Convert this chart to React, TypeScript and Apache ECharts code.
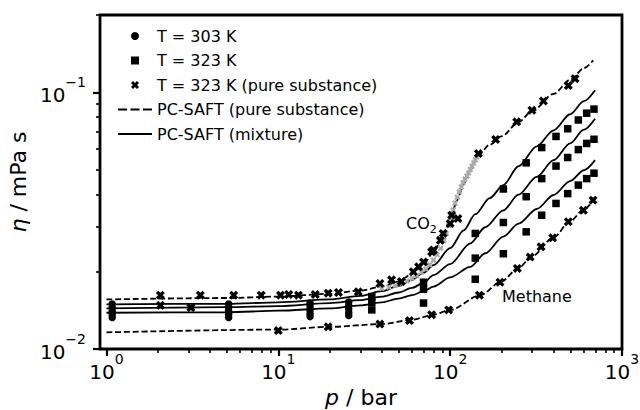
import React, { useEffect, useRef } from 'react';
import * as echarts from 'echarts';

const FONT = 'DejaVu Sans';

// ---------- data (p in bar, eta in mPa s) ----------
// T = 303 K mixture measurements (circles)
const circleP = [
  1.08, 1.08, 1.08, 1.08, 1.08,
  5.14, 5.14, 5.14, 5.14, 5.14,
  15.3, 15.3, 15.3, 15.3, 15.3,
  25.7, 25.7, 25.7, 25.7, 25.7,
];
const circleEta = [
  0.01496, 0.0145, 0.01406, 0.01362, 0.01326,
  0.01496, 0.0145, 0.01406, 0.01362, 0.01326,
  0.0151, 0.01463, 0.01418, 0.01374, 0.01337,
  0.01524, 0.01477, 0.01432, 0.01388, 0.0135,
];

// T = 323 K mixture measurements (squares), three mixtures
const squareP = [35, 70, 140, 204, 277, 341, 413, 483, 557, 623, 687];
const squareEtaA = [0.016, 0.0182, 0.0282, 0.042, 0.0531, 0.0609, 0.0673, 0.0721, 0.078, 0.0829, 0.086];
const squareEtaB = [0.0152, 0.0171, 0.0226, 0.0311, 0.0392, 0.0461, 0.0516, 0.0557, 0.0598, 0.0632, 0.0656];
const squareEtaC = [0.0142, 0.0151, 0.0187, 0.0235, 0.0286, 0.0332, 0.0369, 0.0403, 0.0435, 0.0461, 0.0484];

// T = 323 K pure substances (crosses)
const co2CrossP = [2.06, 3.52, 5.5, 7.95, 10.3, 11.5, 13.1, 16.4, 19.5, 22.4, 29.2, 39, 45.6, 52, 61, 65.5, 70, 78, 80, 87.6, 91, 100, 102, 111, 146, 184, 244, 299, 349, 487, 533];
const co2CrossEta = [0.0162, 0.0162, 0.0162, 0.0162, 0.0162, 0.0163, 0.0162, 0.0163, 0.0165, 0.0166, 0.0167, 0.018, 0.0186, 0.0183, 0.02, 0.0209, 0.0218, 0.0239, 0.0243, 0.0265, 0.0282, 0.0308, 0.0332, 0.0322, 0.0577, 0.0655, 0.0767, 0.0851, 0.0925, 0.1062, 0.113];
const otherCrossP = [2.06, 3.1];
const otherCrossEta = [0.0148, 0.0145];
const ch4CrossP = [10, 19.5, 39, 58, 78, 98, 148, 195, 246, 292, 338, 395, 487, 596, 678];
const ch4CrossEta = [0.0118, 0.0122, 0.0125, 0.0129, 0.0136, 0.0142, 0.0162, 0.0182, 0.0206, 0.0228, 0.025, 0.0271, 0.0313, 0.0347, 0.038];

// dense CO2 data set near the critical region (grey)
const co2DenseP = [40, 44, 48, 52, 56, 60, 64, 68, 72, 76, 80, 84, 88, 92, 95, 98, 101, 104, 107, 110, 113, 116, 119, 122, 125, 128, 131, 134, 137, 140, 143, 146];
const co2DenseEta = [0.0172, 0.0174, 0.0177, 0.018, 0.0184, 0.0188, 0.0193, 0.0199, 0.0205, 0.0213, 0.0222, 0.0233, 0.0247, 0.0265, 0.0282, 0.0302, 0.0325, 0.0348, 0.037, 0.039, 0.041, 0.0428, 0.0444, 0.0459, 0.0472, 0.0485, 0.05, 0.0515, 0.053, 0.0545, 0.056, 0.0575];

// PC-SAFT pure substances (dashed)
const co2LineP = [1, 5, 10, 20, 30, 40, 50, 60, 70, 80, 90, 100, 110, 120, 130, 146, 170, 200, 250, 300, 400, 500, 600, 680];
const co2LineEta = [0.0156, 0.0158, 0.016, 0.0164, 0.0169, 0.0175, 0.0183, 0.0196, 0.0214, 0.0238, 0.0272, 0.0318, 0.038, 0.044, 0.0495, 0.057, 0.0625, 0.0675, 0.0765, 0.0845, 0.0986, 0.1119, 0.124, 0.1332];
const ch4LineP = [1, 10, 20, 40, 60, 80, 100, 150, 200, 250, 300, 400, 500, 600, 690];
const ch4LineEta = [0.01161, 0.0119, 0.0122, 0.0125, 0.013, 0.0136, 0.0142, 0.0162, 0.0184, 0.0207, 0.023, 0.0272, 0.0315, 0.035, 0.0385];

// PC-SAFT mixtures (solid)
const mixAP = [1, 5, 10, 20, 30, 40, 50, 60, 70, 80, 100, 120, 140, 170, 204, 250, 319, 400, 499, 600, 697];
const mixAEta = [0.01493, 0.015, 0.0152, 0.0156, 0.0161, 0.0168, 0.0176, 0.0186, 0.0198, 0.0212, 0.0247, 0.029, 0.0335, 0.0387, 0.0435, 0.0515, 0.0616, 0.0711, 0.0821, 0.0923, 0.1018];
const mixBP = [1, 5, 10, 20, 30, 40, 50, 60, 70, 80, 100, 131, 160, 204, 250, 319, 400, 499, 600, 697];
const mixBEta = [0.0144, 0.01455, 0.0147, 0.0151, 0.0155, 0.016, 0.0166, 0.0173, 0.0181, 0.0194, 0.0214, 0.0258, 0.0298, 0.0347, 0.0399, 0.0468, 0.0544, 0.0632, 0.0715, 0.0789];
const mixCP = [1, 5, 10, 20, 30, 40, 50, 60, 70, 80, 100, 131, 160, 204, 250, 319, 400, 499, 600, 697];
const mixCEta = [0.01384, 0.0139, 0.0141, 0.0144, 0.0148, 0.0152, 0.0157, 0.0162, 0.0168, 0.0175, 0.019, 0.0209, 0.0236, 0.0274, 0.0308, 0.0351, 0.0398, 0.0451, 0.0497, 0.0544];

// axes
const xMajor = [1, 10, 100, 1000];
const xMinor = [2, 3, 4, 5, 6, 7, 8, 9, 20, 30, 40, 50, 60, 70, 80, 90, 200, 300, 400, 500, 600, 700, 800, 900];
const yMajor = [0.01, 0.1];
const yMinor = [0.02, 0.03, 0.04, 0.05, 0.06, 0.07, 0.08, 0.09, 0.2];

const XSYM = 'path://M0,2.6 L2.6,0 L5,2.4 L7.4,0 L10,2.6 L7.6,5 L10,7.4 L7.4,10 L5,7.6 L2.6,10 L0,7.4 L2.4,5 Z';
const SQSYM = 'path://M0,0 L10,0 L10,10 L0,10 Z';
const SOLID_ICON = 'path://M0,0 L34,0 L34,1.8 L0,1.8 Z';
const DASH_ICON = 'path://M0,0 L9,0 L9,1.8 L0,1.8 Z M12.5,0 L21.5,0 L21.5,1.8 L12.5,1.8 Z M25,0 L34,0 L34,1.8 L25,1.8 Z';

const zip = (a: number[], b: number[]) => a.map((v, i) => [v, b[i]]);

const expLabel = (v: number) => {
  const e = Math.round(Math.log10(v));
  return `{b|10}{s|${e < 0 ? '\u2212' + -e : e}}`;
};

const labelRich = {
  b: { fontSize: 20, fontFamily: FONT, color: '#000', verticalAlign: 'bottom', lineHeight: 30 },
  s: { fontSize: 14, fontFamily: FONT, color: '#000', verticalAlign: 'top', lineHeight: 14 },
};

export default function App() {
  const ref = useRef<HTMLDivElement>(null);
  useEffect(() => {
    if (!ref.current) return;
    const chart = echarts.init(ref.current, null, { renderer: 'svg' });
    const black = '#000';
    const lineSeries = (name: string, p: number[], eta: number[], dashed: boolean) => ({
      name,
      type: 'line',
      data: zip(p, eta),
      symbol: 'none',
      smooth: 0.3,
      smoothMonotone: 'x',
      z: 2,
      lineStyle: { color: black, width: 1.8, type: dashed ? [6, 2.8] : 'solid' },
      itemStyle: { color: black },
    });
    const xMin = 0.917;
    const xMax = 1000;
    const yMin = 0.01;
    const yMax = 0.2;
    chart.setOption({
      animation: false,
      backgroundColor: '#fff',
      grid: {
        left: 100,
        right: 18,
        top: 15,
        bottom: 61,
        show: true,
        borderColor: black,
        borderWidth: 2.8,
        backgroundColor: 'transparent',
        outerBoundsMode: 'none',
      },
      legend: {
        orient: 'vertical',
        left: 113,
        top: 23,
        itemWidth: 34,
        itemHeight: 8,
        itemGap: 8.5,
        selectedMode: false,
        symbolKeepAspect: true,
        itemStyle: { borderWidth: 0 },
        textStyle: { fontSize: 16, fontFamily: FONT, color: black, lineHeight: 16 },
        data: [
          { name: 'T = 303 K', icon: 'circle' },
          { name: 'T = 323 K', icon: SQSYM },
          { name: 'T = 323 K (pure substance)', icon: XSYM },
          { name: 'PC-SAFT (pure substance)', icon: DASH_ICON },
          { name: 'PC-SAFT (mixture)', icon: SOLID_ICON },
        ],
      },
      xAxis: [
        {
          type: 'log',
          logBase: 10,
          min: xMin,
          max: xMax,
          position: 'bottom',
          axisLine: { show: false },
          splitLine: { show: false },
          axisTick: { customValues: xMajor, length: 7, lineStyle: { color: black, width: 2.2 } },
          axisLabel: { customValues: xMajor, formatter: expLabel, rich: labelRich, margin: 3 },
          name: '{i|p}{r| / bar}',
          nameLocation: 'middle',
          nameGap: 23,
          nameTextStyle: {
            rich: {
              i: { fontSize: 22, fontFamily: FONT, fontStyle: 'italic', color: black },
              r: { fontSize: 22, fontFamily: FONT, color: black },
            },
          },
        },
        {
          type: 'log',
          logBase: 10,
          min: xMin,
          max: xMax,
          position: 'bottom',
          axisLine: { show: false },
          splitLine: { show: false },
          axisTick: { customValues: xMinor, length: 4, lineStyle: { color: black, width: 1.6 } },
          axisLabel: { show: false },
        },
      ],
      yAxis: [
        {
          type: 'log',
          logBase: 10,
          min: yMin,
          max: yMax,
          position: 'left',
          axisLine: { show: false },
          splitLine: { show: false },
          axisTick: { customValues: yMajor, length: 7, lineStyle: { color: black, width: 2.2 } },
          axisLabel: { customValues: yMajor, formatter: expLabel, rich: labelRich, margin: 14, padding: [0, 0, 4, 0] },
          name: '{i|\u03b7}{r| / mPa s}',
          nameLocation: 'middle',
          nameGap: 64,
          nameTextStyle: {
            rich: {
              i: { fontSize: 22, fontFamily: FONT, fontStyle: 'italic', color: black },
              r: { fontSize: 22, fontFamily: FONT, color: black },
            },
          },
        },
        {
          type: 'log',
          logBase: 10,
          min: yMin,
          max: yMax,
          position: 'left',
          axisLine: { show: false },
          splitLine: { show: false },
          axisTick: { customValues: yMinor, length: 4, lineStyle: { color: black, width: 1.6 } },
          axisLabel: { show: false },
        },
      ],
      series: [
        lineSeries('PC-SAFT (pure substance)', co2LineP, co2LineEta, true),
        lineSeries('PC-SAFT (pure substance)', ch4LineP, ch4LineEta, true),
        lineSeries('PC-SAFT (mixture)', mixAP, mixAEta, false),
        lineSeries('PC-SAFT (mixture)', mixBP, mixBEta, false),
        lineSeries('PC-SAFT (mixture)', mixCP, mixCEta, false),
        {
          name: 'CO2 dense data',
          type: 'scatter',
          data: zip(co2DenseP, co2DenseEta),
          symbol: XSYM,
          symbolSize: 6,
          z: 3,
          itemStyle: { color: '#aaa', opacity: 1 },
        },
        {
          name: 'T = 303 K',
          type: 'scatter',
          data: zip(circleP, circleEta),
          symbol: 'circle',
          symbolSize: 7.5,
          z: 4,
          itemStyle: { color: black, opacity: 1 },
        },
        {
          name: 'T = 323 K',
          type: 'scatter',
          data: [...zip(squareP, squareEtaA), ...zip(squareP, squareEtaB), ...zip(squareP, squareEtaC)],
          symbol: 'rect',
          symbolSize: 7.5,
          z: 4,
          itemStyle: { color: black, opacity: 1 },
        },
        {
          name: 'T = 323 K (pure substance)',
          type: 'scatter',
          data: [...zip(co2CrossP, co2CrossEta), ...zip(otherCrossP, otherCrossEta), ...zip(ch4CrossP, ch4CrossEta)],
          symbol: XSYM,
          symbolSize: 9,
          z: 4,
          itemStyle: { color: black, opacity: 1 },
        },
      ],
      graphic: [
        {
          type: 'text',
          left: 406,
          top: 215,
          silent: true,
          style: {
            text: '{a|CO}{b|2}',
            rich: {
              a: { fontSize: 16, fontFamily: FONT, fill: black, verticalAlign: 'top', lineHeight: 20 },
              b: { fontSize: 11, fontFamily: FONT, fill: black, verticalAlign: 'bottom', lineHeight: 11 },
            },
          },
        },
        {
          type: 'text',
          left: 502,
          top: 288,
          silent: true,
          style: { text: 'Methane', fontSize: 16, fontFamily: FONT, fill: black },
        },
      ],
    });
    return () => chart.dispose();
  }, []);
  return (
    <div
      ref={ref}
      style={{ position: 'fixed', left: 0, top: 0, width: 640, height: 410, background: '#fff' }}
    />
  );
}
